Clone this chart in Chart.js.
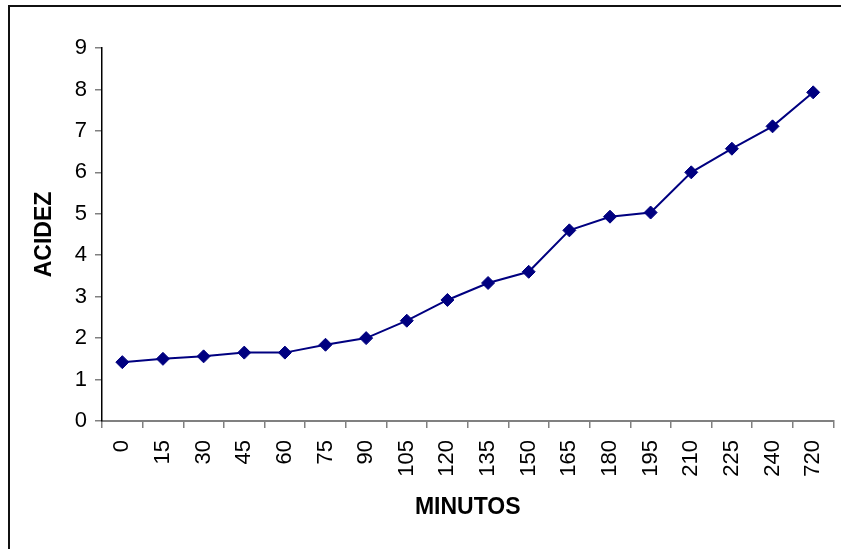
<!DOCTYPE html>
<html>
<head>
<meta charset="utf-8">
<title>Acidez</title>
<script src="https://cdn.jsdelivr.net/npm/chart.js@4/dist/chart.umd.min.js"></script>
<style>
  html, body { margin: 0; padding: 0; background: #fff; }
  canvas { display: block; }
</style>
</head>
<body>
<canvas id="acidez" width="841" height="549"></canvas>
<script>
// minutes sampled and the acidity read at each one
const minutos = ['0', '15', '30', '45', '60', '75', '90', '105', '120', '135', '150',
                 '165', '180', '195', '210', '225', '240', '720'];
const acidez = [1.42, 1.50, 1.56, 1.65, 1.65, 1.84, 2.00, 2.42, 2.92, 3.33, 3.60,
                4.60, 4.93, 5.03, 6.00, 6.57, 7.11, 7.93];
const yTicks = [0, 1, 2, 3, 4, 5, 6, 7, 8, 9];

const fontFamily = '"Liberation Sans", Arial, sans-serif';

// open frame around the chart (only top and left edges fall inside the canvas)
const framePlugin = {
    id: 'frame',
    beforeDraw(chart) {
        const ctx = chart.ctx;
        ctx.save();
        ctx.strokeStyle = '#111';
        ctx.lineWidth = 2;
        ctx.beginPath();
        ctx.moveTo(9, chart.height);
        ctx.lineTo(9, 6);
        ctx.lineTo(chart.width, 6);
        ctx.stroke();
        ctx.restore();
    }
};

const ctx = document.getElementById('acidez').getContext('2d');
new Chart(ctx, {
    type: 'line',
    data: {
        labels: minutos,
        datasets: [{
            data: acidez,
            borderColor: '#000080',
            backgroundColor: '#000080',
            borderWidth: 2,
            pointStyle: 'rectRot',
            pointRadius: 6.5,
            pointBorderWidth: 1,
            pointBackgroundColor: '#000080',
            pointBorderColor: '#000080',
            tension: 0,
            fill: false
        }]
    },
    options: {
        responsive: false,
        animation: false,
        layout: { padding: { top: 48, right: 5, bottom: 0, left: 0 } },
        plugins: {
            legend: { display: false },
            tooltip: { enabled: false }
        },
        scales: {
            x: {
                offset: true,
                afterFit(scale) {
                    scale.height = 128;
                    scale.paddingLeft = 0;
                    scale.paddingRight = 0;
                },
                border: { color: '#808080', width: 2 },
                grid: {
                    offset: true,
                    drawOnChartArea: false,
                    drawTicks: true,
                    tickLength: 7,
                    color: '#808080',
                    lineWidth: 1.5
                },
                ticks: {
                    minRotation: 90,
                    maxRotation: 90,
                    autoSkip: false,
                    padding: 12,
                    color: '#000',
                    font: { family: fontFamily, size: 22 }
                },
                title: {
                    display: true,
                    text: 'MINUTOS',
                    color: '#000',
                    padding: { top: 0, bottom: 29.5 },
                    font: { family: fontFamily, size: 23, weight: 'bold', lineHeight: 1 }
                }
            },
            y: {
                min: 0,
                max: 9,
                afterFit(scale) { scale.width = 102; },
                afterBuildTicks(scale) { scale.ticks = yTicks.map(v => ({ value: v })); },
                border: { color: '#000', width: 1.5 },
                grid: {
                    drawOnChartArea: false,
                    drawTicks: true,
                    tickLength: 7,
                    color: '#808080',
                    lineWidth: 1.5
                },
                ticks: {
                    padding: 8,
                    color: '#000',
                    font: { family: fontFamily, size: 22 }
                },
                title: {
                    display: true,
                    text: 'ACIDEZ',
                    color: '#000',
                    padding: { top: 33.5, bottom: 0 },
                    font: { family: fontFamily, size: 23, weight: 'bold', lineHeight: 1 }
                }
            }
        }
    },
    plugins: [framePlugin]
});
</script>
</body>
</html>
